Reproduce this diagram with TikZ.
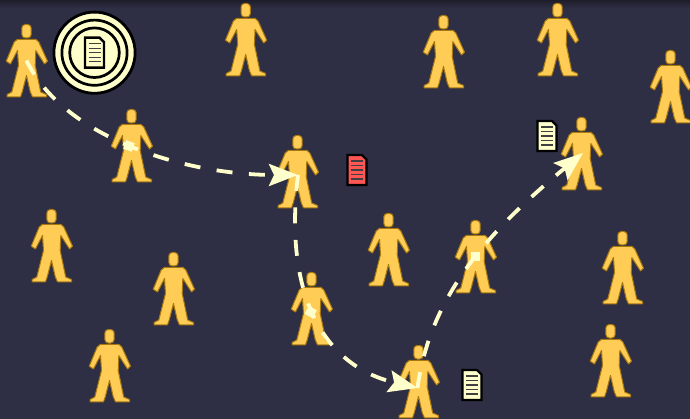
\documentclass[tikz,border=0pt]{standalone}
\usepackage{amsmath,amssymb}
\usetikzlibrary{arrows.meta}
\definecolor{nightbg}{HTML}{2E2E44}
\definecolor{nighttop}{HTML}{1E1E2A}
\definecolor{cream}{HTML}{FFFFCC}
\definecolor{skin}{HTML}{FFCC55}
\definecolor{skinedge}{HTML}{A87810}
\definecolor{alert}{HTML}{FF5555}
\tikzset{
  route/.style={line width=3.8pt,cream,dash pattern=on 16pt off 16.5pt,-{Stealth[length=29pt,width=22pt,inset=5pt]}},
  hop/.style={fill=cream,draw=none,minimum size=9pt,inner sep=0pt},
  person/.pic={
    \draw[skinedge,fill=skin,line width=1pt,rounded corners=3.5pt] (-4.7,-36) rectangle (4.7,-22.5);
    \draw[skinedge,fill=skin,line width=1pt,line join=round]
      (-9,-21.2) -- (9.3,-21.2) -- (12.3,-18.5) -- (21,0.7) -- (18,3.5) -- (9.3,-10)
      -- (8.7,5) -- (14.2,31.5) -- (20,34) -- (20,36.3) -- (6,36.3) -- (3.8,31.5) -- (0,15)
      -- (-4.3,31.5) -- (-6,36.3) -- (-19.5,36.3) -- (-19.5,34) -- (-14.7,31.5) -- (-8,5)
      -- (-9,-10) -- (-16,3.5) -- (-20.3,0.7) -- (-12.3,-18.5) -- cycle;
  },
  paper/.pic={
    \draw[black,fill=#1,line width=2.4pt,line join=miter]
      (-9.5,-15) -- (5,-15) -- (9.5,-10.5) -- (9.5,15) -- (-9.5,15) -- cycle;
    \draw[black!75,line width=1.2pt] (-6,-9) -- (6,-9) (-6,-4.5) -- (6,-4.5) (-6,0) -- (6,0) (-6,4.5) -- (6,4.5) (-6,9) -- (6,9);
  },
}
\begin{document}
\begin{tikzpicture}[x=1pt,y=-1pt]
\useasboundingbox (0,0) rectangle (690,419);
\fill[nightbg] (0,0) rectangle (690,419);
\shade[top color=nighttop,bottom color=nightbg] (0,0) rectangle (690,8);
% people
\coordinate (p1) at (26.5,60.5);
\coordinate (p2) at (131.5,145.5);
\coordinate (p3) at (245.7,39.5);
\coordinate (p4) at (297.5,171.5);
\coordinate (p5) at (443.5,51.5);
\coordinate (p6) at (557.5,39.5);
\coordinate (p7) at (670.5,86.5);
\coordinate (p8) at (581.5,153.5);
\coordinate (p9) at (51.5,245.5);
\coordinate (p10) at (173.5,288.5);
\coordinate (p11) at (109.5,365.5);
\coordinate (p12) at (388.5,249.5);
\coordinate (p13) at (475.5,256.5);
\coordinate (p14) at (311.5,308.5);
\coordinate (p15) at (418.5,381.5);
\coordinate (p16) at (622.5,267.5);
\coordinate (p17) at (610.5,360.5);
\pic at (p1) {person};
\pic at (p2) {person};
\pic at (p3) {person};
\pic at (p4) {person};
\pic at (p5) {person};
\pic at (p6) {person};
\pic at (p7) {person};
\pic at (p8) {person};
\pic at (p9) {person};
\pic at (p10) {person};
\pic at (p11) {person};
\pic at (p12) {person};
\pic at (p13) {person};
\pic at (p14) {person};
\pic at (p15) {person};
\pic at (p16) {person};
\pic at (p17) {person};
% source rings
\coordinate (source) at (94.5,52.7);
\fill[cream] (source) circle (41);
\draw[black,line width=2.8pt] (source) circle (40.6);
\draw[black,line width=2.7pt] (source) circle (32.6);
\draw[black,line width=2.7pt] (source) circle (24.8);
\pic at (source) {paper=cream};
% copies
\pic at (357,170) {paper=alert};
\pic at (547,136) {paper=cream};
\pic at (472,385) {paper=cream};
% routes
\coordinate (r1) at (298,175);
\coordinate (r2) at (417.5,388);
\coordinate (r3) at (583,153);
\coordinate (h1) at (129,146);
\coordinate (h2) at (310.7,312);
\draw[route] (p1) .. controls (62,135) and (180,175) .. (r1);
\draw[route] (r1) .. controls (284,290) and (320,365) .. (r2);
\draw[route] (r2) .. controls (430,295) and (490,230) .. (r3);
\node[hop,rotate=-20] (n1) at (h1) {};
\node[hop,rotate=-30] (n2) at (h2) {};
\node[hop] (n3) at (p13) {};
\end{tikzpicture}
\end{document}
